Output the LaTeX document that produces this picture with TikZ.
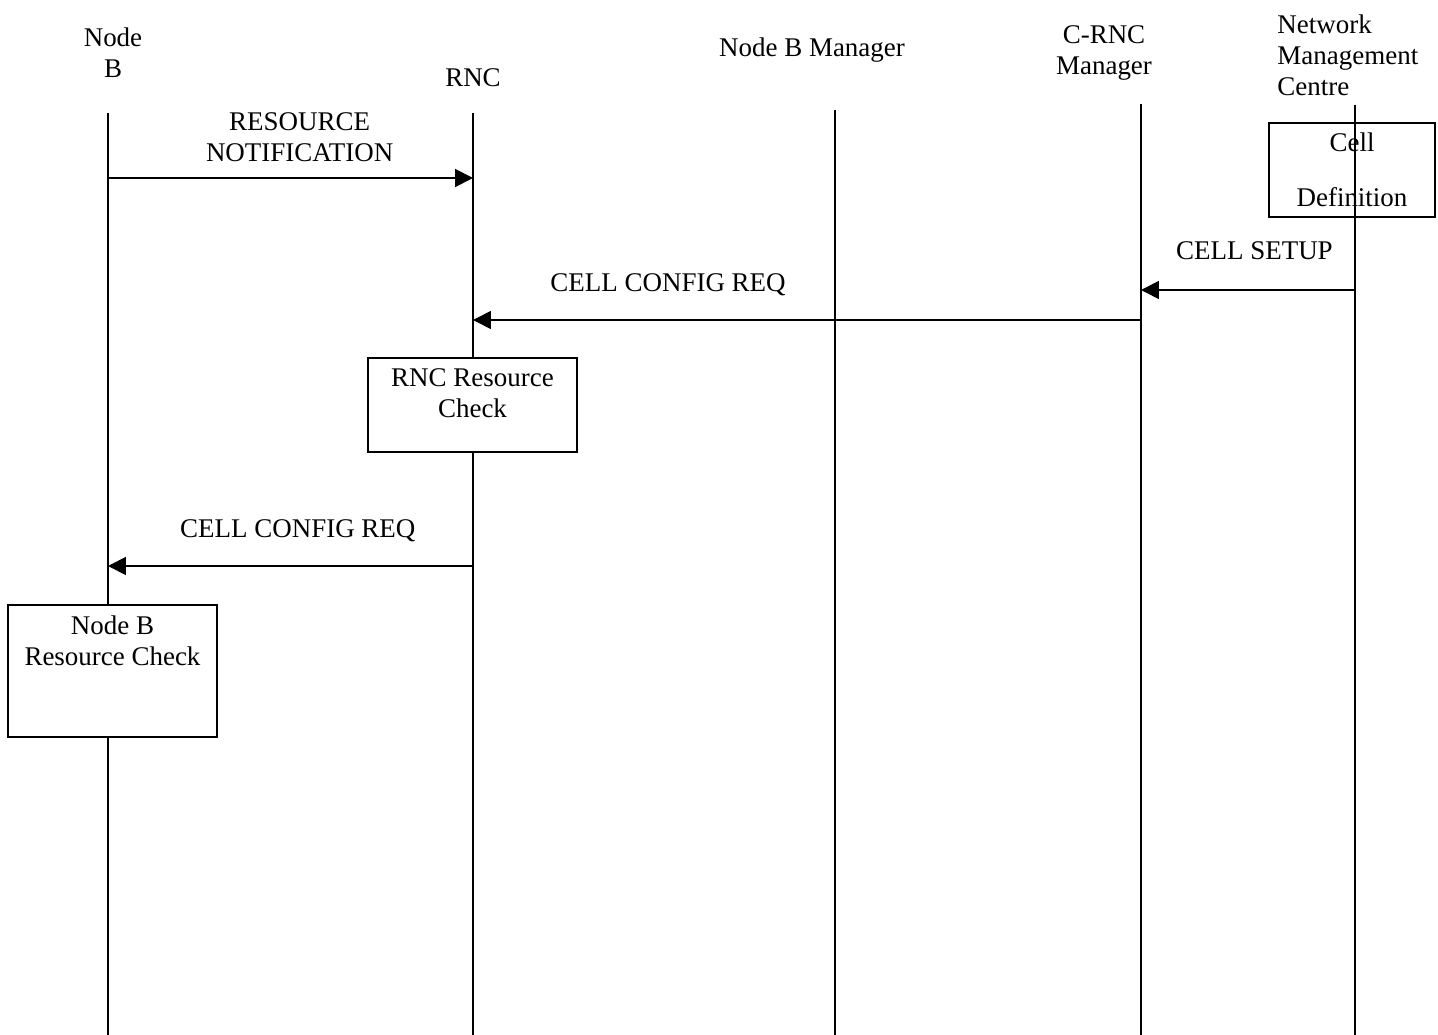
\documentclass[tikz,border=0pt]{standalone}
\usepackage{fontspec}
\setmainfont{Liberation Serif}
\usetikzlibrary{arrows.meta}

\begin{document}
\begin{tikzpicture}[
  x=0.445pt,
  y=-0.445pt,
  >={Triangle[length=8pt,width=8pt]},
  life/.style={line width=.8pt},
  msg/.style={->,line width=.8pt},
  head/.style={align=center,inner sep=0pt,font=\fontsize{12}{13.8}\selectfont},
  msglabel/.style={align=center,inner sep=0pt,font=\fontsize{12}{13.8}\selectfont},
  check/.style={draw,fill=white,line width=.8pt,align=center,anchor=north,
    inner xsep=2pt,inner ysep=5pt,font=\fontsize{12}{13.8}\selectfont}
]
\useasboundingbox (0,0) rectangle (1438,1035);

% entities
\node[head] (nodeb) at (113,53) {Node\\B};
\node[head] (rnc) at (473,78) {RNC};
\node[head] (nbm) at (812,50) {Node B Manager};
\node[head] (crnc) at (1104,53) {C-RNC\\Manager};
\node[head,align=left,anchor=west] (nmc) at (1277,55) {Network\\Management\\Centre};

% lifelines
\coordinate (nbtop) at (108,113);   \coordinate (nbbot) at (108,1035);
\coordinate (rnctop) at (473,113);  \coordinate (rncbot) at (473,1035);
\coordinate (nbmtop) at (835,110);  \coordinate (nbmbot) at (835,1035);
\coordinate (crnctop) at (1141,104); \coordinate (crncbot) at (1141,1035);
\coordinate (nmctop) at (1355,105); \coordinate (nmcbot) at (1355,1035);

\draw[life] (nbtop) -- (nbbot);
\draw[life] (rnctop) -- (rncbot);
\draw[life] (nbmtop) -- (nbmbot);
\draw[life] (crnctop) -- (crncbot);

% local actions
\node[check,minimum width=166*0.445pt,text depth=0pt,inner ysep=4.5pt] (celldef) at (1352,122)
  {Cell\\[10.7pt]Definition};
\draw[life] (nmctop) -- (nmcbot);
\node[check,minimum width=209*0.445pt,text depth=10pt] (rnccheck) at (472.5,357)
  {RNC Resource\\Check};
\node[check,minimum width=209*0.445pt,text depth=26.8pt] (nbcheck) at (112.5,604)
  {Node B\\Resource Check};

% message ends
\coordinate (nb1) at (108,178);   \coordinate (rnc1) at (473,178);
\coordinate (nmc2) at (1355,290); \coordinate (crnc2) at (1141,290);
\coordinate (crnc3) at (1141,320); \coordinate (rnc3) at (473,320);
\coordinate (rnc4) at (473,566);  \coordinate (nb4) at (108,566);

\draw[msg] (nb1) -- node[msglabel,pos=.525,above=7pt]{RESOURCE\\NOTIFICATION} (rnc1);
\draw[msg] (nmc2) -- node[msglabel,pos=.47,above=13pt]{CELL SETUP} (crnc2);
\draw[msg] (crnc3) -- node[msglabel,pos=.708,above=10.5pt]{CELL CONFIG REQ} (rnc3);
\draw[msg] (rnc4) -- node[msglabel,pos=.48,above=10.5pt]{CELL CONFIG REQ} (nb4);

\end{tikzpicture}
\end{document}
